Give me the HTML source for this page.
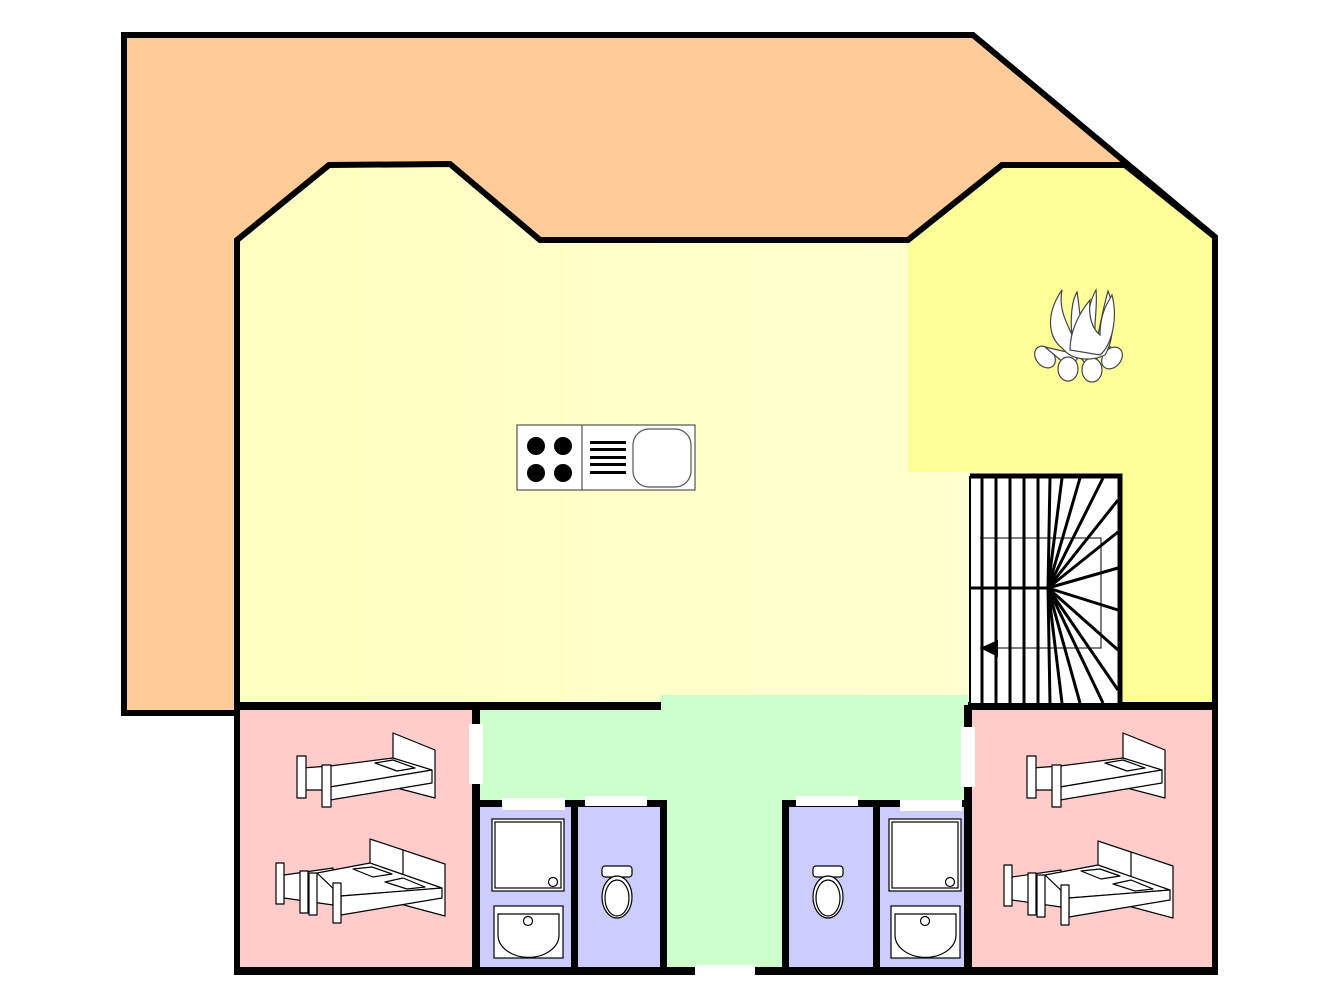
<!DOCTYPE html>
<html><head><meta charset="utf-8"><style>html,body{margin:0;padding:0;background:#fff}svg{display:block}</style></head>
<body>
<svg width="1332" height="1000" viewBox="0 0 1332 1000" xmlns="http://www.w3.org/2000/svg">
<defs>
<linearGradient id="yg" x1="0" y1="0" x2="1" y2="0"><stop offset="0" stop-color="#ffffc0"/><stop offset="1" stop-color="#ffffd4"/></linearGradient>
<g id="sbed" stroke="#000" stroke-width="1.2" fill="#fff" stroke-linejoin="round">
<polygon points="393,733 435,750 435,798 393,787"/>
<polygon points="302,768 330,766 330,790 302,790"/>
<polygon points="330,766 393,758 432,770 330,787"/>
<polygon points="330,787 432,770 432,783 330,800"/>
<polygon points="375,763 393,760 415,768 397,771"/>
<rect x="297" y="756" width="9" height="42"/>
<rect x="322" y="765" width="9" height="42"/>
</g>
<g id="dbed" stroke="#000" stroke-width="1.2" fill="#fff" stroke-linejoin="round">
<polygon points="370,839 445,864 445,916 370,896"/>
<line x1="403" y1="850" x2="403" y2="900"/>
<polygon points="284,875 333,868 333,905 284,898"/>
<polygon points="317,873 370,863 442,888 341,896"/>
<polygon points="341,896 442,888 442,898 341,915"/>
<polygon points="353,869 372,867 392,874 373,877"/>
<polygon points="385,882 403,878 425,887 407,889"/>
<rect x="276" y="863" width="8" height="41"/>
<rect x="300" y="871" width="8" height="42"/>
<rect x="309" y="873" width="8" height="42"/>
<rect x="333" y="883" width="8" height="40"/>
</g>
<g id="shower" stroke="#000" stroke-width="1.2" fill="#fff">
<rect x="492" y="819" width="72" height="72"/>
<rect x="495" y="822" width="66" height="66" fill="none"/>
<circle cx="553" cy="882" r="4.5"/>
<rect x="494" y="906" width="69" height="52"/>
<path d="M498 914 H559 V935 A30 22 0 0 1 498 935 Z" fill="#fff"/>
<circle cx="528" cy="921" r="4.5"/>
</g>
<g id="toilet" stroke="#000" stroke-width="1.2" fill="#fff">
<rect x="602" y="866" width="30" height="11" rx="3"/>
<ellipse cx="617" cy="897" rx="15" ry="21"/>
<ellipse cx="617" cy="898" rx="12" ry="18" fill="none"/>
</g>
</defs>

<!-- orange outer -->
<polygon points="124,35 973,35 1215,237 1215,713 124,713" fill="#ffcc99"/>
<!-- inner yellow -->
<polygon points="237,240 329,165 450,164 540,240 908,240 1002,165 1125,165 1215,237 1215,713 237,713" fill="url(#yg)"/>
<polygon points="908,240 1002,165 1125,165 1215,237 1215,705 1120,705 1120,472 908,472" fill="#ffff99"/>
<!-- rooms -->
<rect x="240" y="710" width="234" height="260" fill="#ffcccc"/>
<rect x="972" y="710" width="240" height="260" fill="#ffcccc"/>
<rect x="660" y="695" width="308" height="20" fill="#ccffcc"/>
<rect x="478" y="710" width="490" height="92" fill="#ccffcc"/>
<rect x="664" y="800" width="122" height="170" fill="#ccffcc"/>
<rect x="478" y="805" width="97" height="165" fill="#ccccff"/>
<rect x="575" y="805" width="90" height="165" fill="#ccccff"/>
<rect x="785" y="805" width="91" height="165" fill="#ccccff"/>
<rect x="876" y="805" width="92" height="165" fill="#ccccff"/>

<!-- outer lines -->
<g fill="none" stroke="#000" stroke-width="6" stroke-linejoin="miter">
<polyline points="237,713 124,713 124,35 973,35 1215,237 1215,975"/>
<polyline points="237,975 237,240 329,165 450,164 540,240 908,240 1002,165 1125,165 1215,237"/>
</g>
<!-- walls -->
<g fill="#000">
<rect x="234" y="702" width="427" height="8"/>
<rect x="968" y="702" width="250" height="8"/>
<rect x="234" y="967" width="461" height="8"/>
<rect x="755" y="967" width="463" height="8"/>
<rect x="472" y="705" width="8" height="268"/>
<rect x="964" y="705" width="8" height="268"/>
<rect x="472" y="800" width="194" height="7"/>
<rect x="782" y="800" width="190" height="7"/>
<rect x="571" y="800" width="7" height="172"/>
<rect x="660" y="800" width="7" height="172"/>
<rect x="782" y="800" width="7" height="172"/>
<rect x="873" y="800" width="7" height="172"/>
</g>
<!-- door gaps -->
<g fill="#fff">
<rect x="469" y="724" width="14" height="60"/>
<rect x="961" y="727" width="14" height="60"/>
<rect x="502" y="798" width="63" height="12"/>
<rect x="585" y="796" width="62" height="10"/>
<rect x="796" y="796" width="62" height="10"/>
<rect x="900" y="800" width="62" height="11"/>
<rect x="695" y="965" width="60" height="12"/>
</g>

<!-- stairs -->
<rect x="970" y="478" width="150" height="225" fill="#fff"/>
<g stroke="#000" stroke-width="3">
<line x1="982" y1="478" x2="982" y2="703"/><line x1="996" y1="478" x2="996" y2="703"/>
<line x1="1010" y1="478" x2="1010" y2="703"/><line x1="1024" y1="478" x2="1024" y2="703"/>
<line x1="1038" y1="478" x2="1038" y2="703"/>
<line x1="1048" y1="588" x2="1050" y2="478"/><line x1="1048" y1="588" x2="1062" y2="478"/>
<line x1="1048" y1="588" x2="1080" y2="478"/><line x1="1048" y1="588" x2="1103" y2="478"/>
<line x1="1048" y1="588" x2="1118" y2="500"/><line x1="1048" y1="588" x2="1118" y2="532"/>
<line x1="1048" y1="588" x2="1118" y2="568"/><line x1="1048" y1="588" x2="1118" y2="610"/>
<line x1="1048" y1="588" x2="1118" y2="650"/><line x1="1048" y1="588" x2="1118" y2="690"/>
<line x1="1048" y1="588" x2="1103" y2="703"/><line x1="1048" y1="588" x2="1080" y2="703"/>
<line x1="1048" y1="588" x2="1062" y2="703"/><line x1="1048" y1="588" x2="1050" y2="703"/>
<line x1="970" y1="588" x2="1048" y2="588"/>
</g>
<g stroke="#000" stroke-width="1" fill="none"><polyline points="980,538 1101,538 1101,648 980,648"/></g>
<polygon points="980,648 998,640 998,657" fill="#000"/>
<polyline points="970,476 1120,476 1120,705" fill="none" stroke="#000" stroke-width="5"/>
<line x1="970" y1="476" x2="970" y2="703" stroke="#000" stroke-width="2"/>

<!-- stove/sink -->
<g stroke="#555" stroke-width="1.2" fill="#fff">
<rect x="517" y="425" width="178" height="65"/>
<line x1="582" y1="425" x2="582" y2="490"/>
<rect x="633" y="429" width="58" height="58" rx="16"/>
</g>
<g fill="#000"><circle cx="536" cy="446" r="9"/><circle cx="563" cy="446" r="9"/><circle cx="536" cy="473" r="9"/><circle cx="563" cy="473" r="9"/>
<rect x="590" y="441" width="36" height="3"/><rect x="590" y="448" width="36" height="3"/><rect x="590" y="456" width="36" height="3"/><rect x="590" y="463" width="36" height="3"/><rect x="590" y="471" width="36" height="3"/></g>

<!-- fire -->
<g stroke="#444" stroke-width="1.2" fill="#fff">
<ellipse cx="1045" cy="357" rx="9" ry="12" transform="rotate(-40 1045 357)"/>
<path d="M1045 347 L1080 355 L1070 368 Z"/>
<ellipse cx="1112" cy="358" rx="9" ry="12" transform="rotate(40 1112 358)"/>
<path d="M1110 347 L1075 352 L1088 366 Z"/>
<ellipse cx="1068" cy="369" rx="10" ry="12"/>
<ellipse cx="1092" cy="370" rx="10" ry="12"/>
<path d="M1063 349 C1045 335 1048 310 1062 290 C1058 310 1068 325 1072 335 C1070 318 1072 300 1077 292 C1080 310 1080 325 1084 330 C1088 315 1090 300 1096 290 C1098 310 1092 330 1097 340 C1100 325 1104 305 1108 291 C1116 310 1114 340 1105 355 C1090 362 1072 360 1063 349 Z"/>
<path d="M1070 350 C1070 330 1080 312 1090 300 C1088 320 1094 330 1100 335 C1100 315 1106 305 1112 295 C1118 318 1112 345 1100 355 Z"/>
</g>

<!-- beds -->
<use href="#sbed"/>
<use href="#dbed"/>
<use href="#sbed" transform="translate(730,0)"/>
<use href="#dbed" transform="translate(728,2)"/>
<use href="#shower"/>
<use href="#shower" transform="translate(397,0)"/>
<use href="#toilet"/>
<use href="#toilet" transform="translate(211,0)"/>
</svg>
</body></html>
